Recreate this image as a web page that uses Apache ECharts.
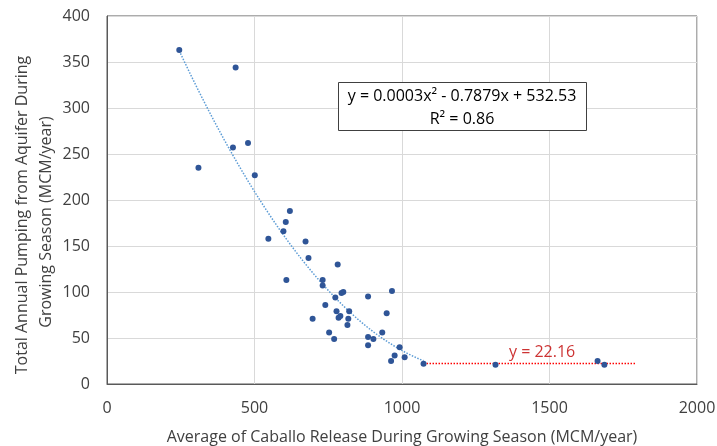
<!DOCTYPE html>
<html>
<head>
<meta charset="utf-8">
<script src="https://cdn.jsdelivr.net/npm/echarts@6/dist/echarts.min.js"></script>
<style>
html,body{margin:0;padding:0;background:#fff;}
#c{width:717px;height:446px;}
</style>
</head>
<body>
<div id="c"></div>
<script>
// Scatter data
const releaseX = [245, 436, 427, 478, 310, 501, 620, 606, 598, 547, 673, 683, 782, 608, 731, 731, 801, 795, 774, 885, 966, 740, 778, 821, 697, 791, 785, 818, 815, 948, 753, 933, 770, 885, 903, 885, 992, 975, 963, 1009, 1073, 1317, 1663, 1686];
const pumpingY = [363, 344, 257, 262, 235, 227, 188, 176, 166, 158, 155, 137, 130, 113, 113, 107, 100, 99, 94, 95, 101, 86, 79, 79, 71, 74, 72, 71, 64, 77, 56, 56, 49, 51, 49, 42, 40, 31, 25, 29, 22, 21, 25, 21];
// Quadratic trendline range (x) and constant-line segment
const trendRange = [249, 1073];
const constX = [1073, 1795];
const constY = 22.16;
const constLabelX = 1475;
const xTicks = [0, 500, 1000, 1500, 2000];
const yTicks = [0, 50, 100, 150, 200, 250, 300, 350, 400];
const eqText = ['y = 0.0003x\u00B2 - 0.7879x + 532.53', 'R\u00B2 = 0.86'];
const constLabel = 'y = 22.16';

// least-squares quadratic fit of points in the trend range
function quadFit(xs, ys) {
  let S = [0,0,0,0,0], T = [0,0,0];
  for (let i = 0; i < xs.length; i++) {
    const x = xs[i], y = ys[i];
    let p = 1;
    for (let k = 0; k < 5; k++) { S[k] += p; if (k < 3) T[k] += p * y; p *= x; }
  }
  const A = [[S[0],S[1],S[2],T[0]],[S[1],S[2],S[3],T[1]],[S[2],S[3],S[4],T[2]]];
  for (let i = 0; i < 3; i++) {
    for (let j = i + 1; j < 3; j++) {
      const f = A[j][i] / A[i][i];
      for (let k = i; k < 4; k++) A[j][k] -= f * A[i][k];
    }
  }
  const c = [0,0,0];
  for (let i = 2; i >= 0; i--) {
    let s = A[i][3];
    for (let k = i + 1; k < 3; k++) s -= A[i][k] * c[k];
    c[i] = s / A[i][i];
  }
  return c; // c0 + c1 x + c2 x^2
}
const fx = [], fy = [];
releaseX.forEach((x, i) => { if (x <= trendRange[1]) { fx.push(x); fy.push(pumpingY[i]); } });
const coef = quadFit(fx, fy);
const trend = [];
for (let x = trendRange[0]; x <= trendRange[1]; x += 8) trend.push([x, coef[0] + coef[1]*x + coef[2]*x*x]);
trend.push([trendRange[1], coef[0] + coef[1]*trendRange[1] + coef[2]*trendRange[1]*trendRange[1]]);

const font = '"Open Sans", "Noto Sans", sans-serif';
const chart = echarts.init(document.getElementById('c'), null, {renderer: 'canvas'});
chart.setOption({
  animation: false,
  backgroundColor: '#fff',
  grid: {left: 107, right: 20, top: 16, bottom: 62, show: true, borderColor: '#595959', borderWidth: 1,
    containLabel: false, outerBoundsMode: 'none'},
  xAxis: {
    type: 'value', min: xTicks[0], max: xTicks[xTicks.length-1], interval: 500,
    axisLine: {show: true, lineStyle: {color: '#595959'}},
    axisTick: {show: false},
    splitLine: {show: true, lineStyle: {color: '#d9d9d9', width: 1}},
    axisLabel: {color: '#404040', fontFamily: font, fontSize: 16, margin: 16, formatter: v => String(v)},
    name: 'Average of Caballo Release During Growing Season (MCM/year)',
    nameLocation: 'middle', nameGap: 45,
    nameTextStyle: {color: '#404040', fontFamily: font, fontSize: 16}
  },
  yAxis: {
    type: 'value', min: yTicks[0], max: yTicks[yTicks.length-1], interval: 50,
    axisLine: {show: true, lineStyle: {color: '#595959'}},
    axisTick: {show: false},
    splitLine: {show: true, lineStyle: {color: '#d9d9d9', width: 1}},
    axisLabel: {color: '#404040', fontFamily: font, fontSize: 16, margin: 17, formatter: v => String(v)}
  },
  graphic: [
    {type: 'text', x: 22, y: 215, rotation: Math.PI/2, originX: 0, originY: 0,
      style: {text: 'Total Annual Pumping from Aquifer During', fill: '#404040', font: '16px ' + font, textAlign: 'center', textVerticalAlign: 'middle'}},
    {type: 'text', x: 46, y: 222, rotation: Math.PI/2, originX: 0, originY: 0,
      style: {text: 'Growing Season (MCM/year)', fill: '#404040', font: '16px ' + font, textAlign: 'center', textVerticalAlign: 'middle'}},
    {type: 'rect', shape: {x: 338.5, y: 82.5, width: 248, height: 48}, style: {fill: '#fff', stroke: '#404040', lineWidth: 1}, z: 10},
    {type: 'text', x: 462, y: 96, style: {text: eqText[0], fill: '#000', font: '16px ' + font, textAlign: 'center', textVerticalAlign: 'middle'}, z: 11},
    {type: 'text', x: 462, y: 119, style: {text: eqText[1], fill: '#000', font: '16px ' + font, textAlign: 'center', textVerticalAlign: 'middle'}, z: 11}
  ],
  series: [
    {type: 'line', data: trend, showSymbol: false, smooth: false, z: 2,
      lineStyle: {color: '#5B9BD5', width: 1.5, type: [1.5, 1.5]}},
    {type: 'line', data: constX.map(x => [x, constY]), showSymbol: false, z: 2,
      lineStyle: {color: '#FF0000', width: 1.5, type: [1.5, 1.5]}},
    {type: 'scatter', data: [[constLabelX, constY]], symbolSize: 0, z: 3,
      label: {show: true, position: 'top', distance: 3, formatter: constLabel, color: '#C00000', fontFamily: font, fontSize: 16}},
    {type: 'scatter', data: releaseX.map((x, i) => [x, pumpingY[i]]), symbolSize: 6, z: 4,
      itemStyle: {color: '#2F5597', opacity: 1}}
  ]
});
</script>
</body>
</html>
